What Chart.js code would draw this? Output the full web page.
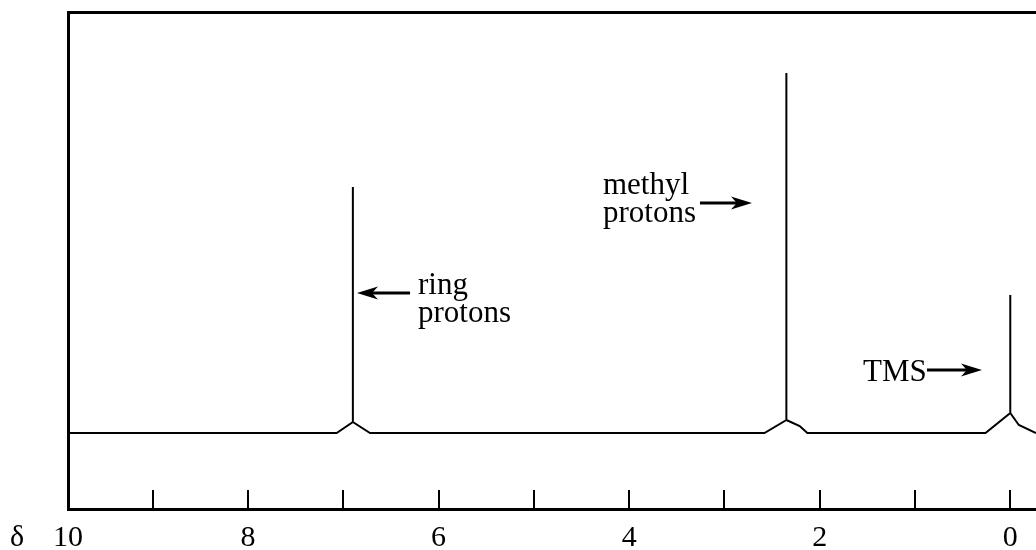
<!DOCTYPE html>
<html><head><meta charset="utf-8">
<script src="https://cdn.jsdelivr.net/npm/chart.js@4/dist/chart.umd.min.js"></script>
<style>html,body{margin:0;padding:0;background:#fff;overflow:hidden}#wrap{width:1036px;height:550px;position:relative}</style>
</head><body><div id="wrap"><canvas id="c" width="1036" height="550"></canvas></div>
<script>
// Spectrum trace: chemical shift (ppm) and relative intensity
const shiftPpm  = [9.89, 7.07, 6.90, 6.90, 6.90, 6.72, 2.58, 2.35, 2.35, 2.35, 2.21, 2.13, 0.26, 0.00, 0.00, 0.00, -0.09, -0.27];
const intensity = [0,    0,    2.75, 61.5, 2.75, 0,    0,    3.25, 90,   3.25, 1.75, 0,    0,    5,    34.5, 5,    2,     0];
// Axis ticks
const tickValues = [9.89, 9, 8, 7, 6, 5, 4, 3, 2, 1, 0];
const tickLabels = ['10', '', '8', '', '6', '', '4', '', '2', '', '0'];
// Peak labels
const peakLabels = [['ring', 'protons'], ['methyl', 'protons'], ['TMS']];

const SERIF = "'Liberation Serif', 'Times New Roman', serif";
const FONT_PX = 30;
const NOTE_PX = 31;

const notes = [
  {lines: peakLabels[0], tx: 6.216, ty: 34.75, ax1: 6.30, ax2: 6.857, ay: 35},
  {lines: peakLabels[1], tx: 4.275, ty: 59.75, ax1: 3.257, ax2: 2.711, ay: 57.5},
  {lines: peakLabels[2], tx: 1.546, ty: 13,   ax1: 0.874, ax2: 0.297, ay: 15.75}
];

const annotate = {
  id: 'annotate',
  afterDraw(chart) {
    const {ctx, scales: {x, y}} = chart;
    ctx.save();
    ctx.fillStyle = '#000';
    ctx.strokeStyle = '#000';
    ctx.textBaseline = 'alphabetic';
    ctx.textAlign = 'left';
    // delta symbol left of the axis labels
    ctx.font = FONT_PX + 'px ' + SERIF;
    ctx.fillText('\u03B4', 10, 546);
    ctx.font = NOTE_PX + 'px ' + SERIF;
    for (const n of notes) {
      const px = x.getPixelForValue(n.tx), py = y.getPixelForValue(n.ty);
      n.lines.forEach((t, i) => ctx.fillText(t, px, py + i * 28));
      const x1 = x.getPixelForValue(n.ax1), x2 = x.getPixelForValue(n.ax2), ay = y.getPixelForValue(n.ay);
      const dir = Math.sign(x2 - x1);
      const head = 21;
      ctx.lineWidth = 3;
      ctx.beginPath();
      ctx.moveTo(x1, ay);
      ctx.lineTo(x2 - dir * head * 0.7, ay);
      ctx.stroke();
      ctx.beginPath();
      ctx.moveTo(x2, ay);
      ctx.lineTo(x2 - dir * head, ay - 6.5);
      ctx.lineTo(x2 - dir * head * 0.72, ay);
      ctx.lineTo(x2 - dir * head, ay + 6.5);
      ctx.closePath();
      ctx.fill();
    }
    ctx.restore();
  }
};

const noPad = s => { s.paddingLeft = 0; s.paddingRight = 0; s.paddingTop = 0; s.paddingBottom = 0; };

new Chart(document.getElementById('c'), {
  type: 'scatter',
  data: {
    datasets: [{
      data: shiftPpm.map((v, i) => ({x: v, y: intensity[i]})),
      showLine: true,
      borderColor: '#000',
      borderWidth: 2,
      pointRadius: 0,
      tension: 0,
      fill: false
    }]
  },
  options: {
    responsive: false,
    animation: false,
    layout: {padding: 0},
    plugins: {legend: {display: false}, tooltip: {enabled: false}},
    scales: {
      x: {
        type: 'linear', position: 'bottom', reverse: true,
        min: -0.27, max: 9.89,
        afterBuildTicks: s => { s.ticks = tickValues.map(v => ({value: v})); },
        afterFit: s => { s.height = 41; noPad(s); },
        grid: {
          display: true, drawOnChartArea: false, drawTicks: true, tickLength: -19, lineWidth: 2,
          color: c => (c.tick && c.tick.value === tickValues[0]) ? 'rgba(0,0,0,0)' : '#000'
        },
        border: {display: true, color: '#000', width: 3},
        ticks: {
          autoSkip: false, maxRotation: 0, padding: 30, color: '#000',
          font: {family: SERIF, size: FONT_PX},
          callback: (v, i) => tickLabels[i]
        }
      },
      x2: {
        type: 'linear', axis: 'x', position: 'top', reverse: true,
        min: -0.27, max: 9.89,
        afterFit: s => { s.height = 12; noPad(s); },
        ticks: {display: false},
        grid: {display: false},
        border: {display: true, color: '#000', width: 3}
      },
      y: {
        type: 'linear', position: 'left', min: -19, max: 105.25,
        afterFit: s => { s.width = 68; noPad(s); },
        ticks: {display: false},
        grid: {display: false},
        border: {display: true, color: '#000', width: 3}
      }
    }
  },
  plugins: [annotate]
});
</script>
</body></html>
